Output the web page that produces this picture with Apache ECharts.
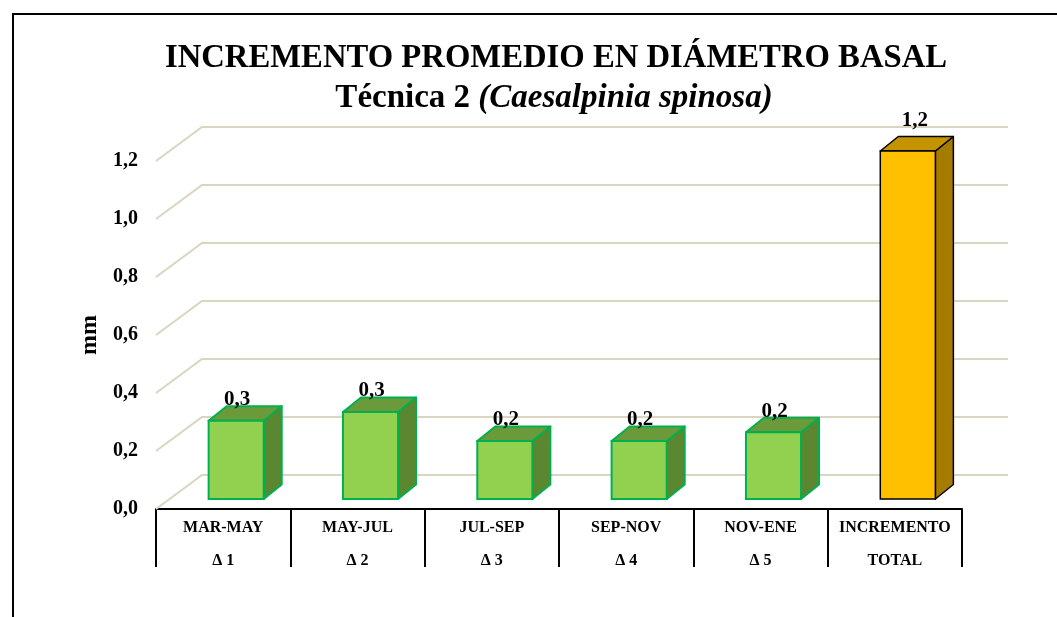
<!DOCTYPE html>
<html><head><meta charset="utf-8">
<script src="https://cdn.jsdelivr.net/npm/echarts@6/dist/echarts.min.js"></script>
<style>html,body{margin:0;padding:0;background:#fff}#c{width:1057px;height:617px}</style>
</head><body><div id="c"></div>
<script>
const categories = ['MAR-MAY', 'MAY-JUL', 'JUL-SEP', 'SEP-NOV', 'NOV-ENE', 'INCREMENTO'];
const subLabels = ['Δ 1', 'Δ 2', 'Δ 3', 'Δ 4', 'Δ 5', 'TOTAL'];
const values = [0.27, 0.30, 0.20, 0.20, 0.23, 1.20];
const yTicks = [0, 0.2, 0.4, 0.6, 0.8, 1.0, 1.2];

const FONT = "'Liberation Serif', 'Times New Roman', serif";
const fmt = v => v.toFixed(1).replace('.', ',');
// 3D projection constants (styles)
const WALL = [46, -34];     // back wall offset
const BARSHIFT = [13, -10]; // bar front face offset from front plane
const DEPTH = [18, -14.5];  // bar depth
const GRID_COLOR = '#d9d5c1';

const chart = echarts.init(document.getElementById('c'));
chart.setOption({
  animation: false,
  backgroundColor: '#fff',
  title: [
    { text: 'INCREMENTO PROMEDIO EN DIÁMETRO BASAL', left: 551, top: 37, textAlign: 'center',
      textStyle: { fontFamily: FONT, fontWeight: 'bold', fontSize: 32.7, color: '#000' } },
    { text: '{b|Técnica 2 }{i|(Caesalpinia spinosa)}', left: 549, top: 77, textAlign: 'center',
      textStyle: { rich: {
        b: { fontFamily: FONT, fontWeight: 'bold', fontSize: 33, color: '#000' },
        i: { fontFamily: FONT, fontWeight: 'bold', fontStyle: 'italic', fontSize: 33, color: '#000' } } } }
  ],
  graphic: [{ type: 'rect', shape: { x: 13, y: 14, width: 1200, height: 800 },
    style: { fill: 'none', stroke: '#000', lineWidth: 2 }, silent: true }],
  grid: { left: 156, right: 95, top: 161, bottom: 108 },
  xAxis: {
    type: 'category', data: categories,
    axisLine: { lineStyle: { color: '#000', width: 2 } },
    axisTick: { show: true, interval: 0, length: 58, lineStyle: { color: '#000', width: 2 } },
    axisLabel: { interval: 0, hideOverlap: false, margin: 2, lineHeight: 33, color: '#000', fontFamily: FONT,
      fontWeight: 'bold', fontSize: 16, formatter: (v, i) => v + '\n' + subLabels[i] },
    splitLine: { show: false }
  },
  yAxis: {
    type: 'value', min: 0, max: 1.2, interval: 0.2,
    name: 'mm', nameLocation: 'middle', nameGap: 53, nameRotate: 90,
    nameTextStyle: { fontFamily: FONT, fontWeight: 'bold', fontSize: 24, color: '#000' },
    axisLine: { show: false }, axisTick: { show: false }, splitLine: { show: false },
    axisLabel: { margin: 18, color: '#000', fontFamily: FONT, fontWeight: 'bold', fontSize: 20, formatter: v => fmt(v) }
  },
  series: [
    {
      type: 'custom', clip: false, z: 1, silent: true,
      data: yTicks.map(v => [0, v]),
      renderItem: (params, api) => {
        const cs = params.coordSys;
        const y = api.coord([0, api.value(1)])[1];
        const x0 = cs.x;
        return { type: 'polyline', shape: { points: [[x0, y], [x0 + WALL[0], y + WALL[1]], [x0 + cs.width + WALL[0], y + WALL[1]]] },
          style: { stroke: GRID_COLOR, lineWidth: 2, fill: 'none' } };
      }
    },
    {
      type: 'custom', clip: false, z: 3, silent: true,
      data: values.map((v, i) => [i, v]),
      renderItem: (params, api) => {
        const i = api.value(0), v = api.value(1);
        const base = api.coord([i, 0]);
        const top = api.coord([i, v]);
        const w = api.size([1, 0])[0] * 0.41;
        const cx = base[0] + BARSHIFT[0];
        const x0 = cx - w / 2, x1 = cx + w / 2;
        const yb = base[1] + BARSHIFT[1], yt = top[1] + BARSHIFT[1];
        const total = i === values.length - 1;
        const c = total ? { front: '#ffc000', top: '#c49400', side: '#a67c00', line: '#000', lw: 1.5 }
                        : { front: '#92d050', top: '#6b9a3b', side: '#5b8731', line: '#00b050', lw: 2 };
        const dx = DEPTH[0], dy = DEPTH[1];
        return { type: 'group', children: [
          { type: 'polygon', shape: { points: [[x1, yt], [x1 + dx, yt + dy], [x1 + dx, yb + dy], [x1, yb]] },
            style: { fill: c.side, stroke: c.line, lineWidth: c.lw, lineJoin: 'round' } },
          { type: 'polygon', shape: { points: [[x0, yt], [x0 + dx, yt + dy], [x1 + dx, yt + dy], [x1, yt]] },
            style: { fill: c.top, stroke: c.line, lineWidth: c.lw, lineJoin: 'round' } },
          { type: 'rect', shape: { x: x0, y: yt, width: w, height: yb - yt },
            style: { fill: c.front, stroke: c.line, lineWidth: c.lw } },
          { type: 'text', x: cx + (total ? 7 : 1), y: yt - (total ? 30 : 21),
            style: { text: fmt(v), fontFamily: FONT, fontWeight: 'bold', fontSize: 21, fill: '#000',
              align: 'center', verticalAlign: 'middle' } }
        ] };
      }
    }
  ]
});
</script></body></html>
